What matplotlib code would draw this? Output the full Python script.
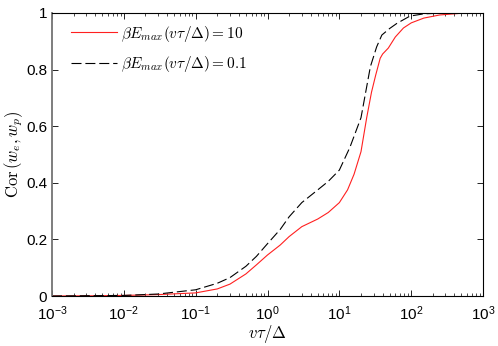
import numpy as np
import matplotlib.pyplot as plt
from matplotlib.ticker import FixedLocator, NullFormatter

plt.rcParams['mathtext.fontset'] = 'cm'
plt.rcParams['font.family'] = ['Liberation Sans', 'DejaVu Sans']

# кривая beta*E_max = 10 (красная)
x_red = [1e-3, 3e-3, 1e-2, 3e-2, 0.1, 0.2, 0.3, 0.5, 0.7, 1.0, 1.5, 2, 3, 5, 7,
         10, 13, 16, 20, 24, 28, 32, 37, 40, 48, 60, 78, 100, 150, 250, 500, 1000]
y_red = [0, 0.0005, 0.002, 0.005, 0.011, 0.025, 0.042, 0.078, 0.11, 0.145, 0.18,
         0.21, 0.245, 0.272, 0.295, 0.33, 0.375, 0.43, 0.51, 0.63, 0.72, 0.78, 0.84,
         0.855, 0.876, 0.915, 0.947, 0.965, 0.982, 0.993, 0.999, 1.0]

# кривая beta*E_max = 0.1 (чёрная пунктирная)
x_blk = [1e-3, 1e-2, 3e-2, 0.1, 0.2, 0.3, 0.5, 0.7, 1.0, 1.5, 2, 3, 5, 7,
         10, 14, 20, 27, 33, 39, 50, 63, 96, 150, 300, 1000]
y_blk = [0, 0.002, 0.007, 0.022, 0.045, 0.065, 0.105, 0.14, 0.185, 0.235, 0.28,
         0.33, 0.375, 0.405, 0.445, 0.525, 0.63, 0.81, 0.88, 0.922, 0.945, 0.963,
         0.989, 0.997, 1.0, 1.0]

labels = [r'$\beta E_{max}(v\tau/\Delta) = 10$', r'$\beta E_{max}(v\tau/\Delta) = 0.1$']
x_ticks = [1e-3, 1e-2, 1e-1, 1e0, 1e1, 1e2, 1e3]
x_ticklabels = [r'$\mathregular{10^{-3}}$', r'$\mathregular{10^{-2}}$',
                r'$\mathregular{10^{-1}}$', r'$\mathregular{10^{0}}$',
                r'$\mathregular{10^{1}}$', r'$\mathregular{10^{2}}$',
                r'$\mathregular{10^{3}}$']
y_ticks = [0, 0.2, 0.4, 0.6, 0.8, 1]
y_ticklabels = ['0', '0.2', '0.4', '0.6', '0.8', '1']

fig = plt.figure(figsize=(4.98, 3.46), dpi=100)
ax = fig.add_axes([0.1044, 0.1445, 0.8656, 0.818])

ax.semilogx(x_red, y_red, color='#ff2020', lw=0.8, label=labels[0])
ax.semilogx(x_blk, y_blk, color='black', lw=0.8, dashes=(9, 3.5), label=labels[1])

ax.set_xlim(1e-3, 1e3)
ax.set_ylim(0, 1)
ax.yaxis.set_major_locator(FixedLocator(y_ticks))
ax.set_yticklabels(y_ticklabels)
ax.xaxis.set_major_locator(FixedLocator(x_ticks))
ax.set_xticklabels(x_ticklabels)
minor = [m * d for d in x_ticks[:-1] for m in range(2, 10)]
ax.xaxis.set_minor_locator(FixedLocator(minor))
ax.xaxis.set_minor_formatter(NullFormatter())

ax.tick_params(which='both', direction='in', top=True, right=True, labelsize=11)
ax.tick_params(which='major', length=4, width=0.6)
ax.tick_params(which='minor', length=2, width=0.5)
ax.tick_params(axis='x', pad=6)
for s in ax.spines.values():
    s.set_linewidth(0.8)
ax.spines['left'].set_color('0.45')
ax.spines['left'].set_linewidth(1.3)

ax.set_xlabel(r'$v\tau/\Delta$', fontsize=12, labelpad=0)
ax.set_ylabel(r'$\mathrm{Cor}\,(w_e, w_p)$', fontsize=12, labelpad=1)

ax.legend(loc='upper left', bbox_to_anchor=(0.019, 1.0), frameon=False,
          fontsize=11, handlelength=3.0, labelspacing=0.7, borderaxespad=0.3,
          borderpad=0.4, handletextpad=0.3)

fig.savefig('out.png', dpi=100)
